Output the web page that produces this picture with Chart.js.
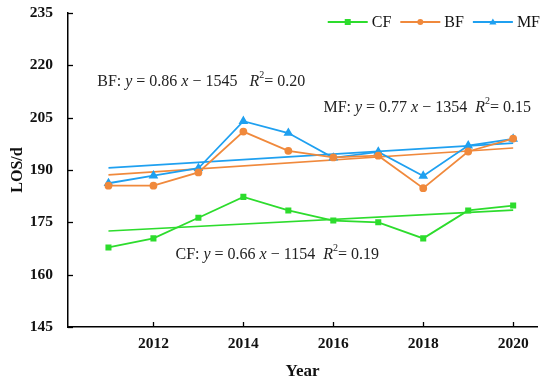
<!DOCTYPE html>
<html lang="en">
<head>
    <meta charset="UTF-8">
    <title>LOS trend</title>
    <script src="https://cdn.jsdelivr.net/npm/chart.js"></script>
    <style>
        html, body { margin: 0; padding: 0; background: #ffffff; }
        #wrap { width: 550px; height: 386px; }
    </style>
</head>
<body>
    <div id="wrap"><canvas id="losChart"></canvas></div>
    <script>
        const years = [2011, 2012, 2013, 2014, 2015, 2016, 2017, 2018, 2019, 2020];
        const cfValues = [167.8, 170.4, 176.3, 182.3, 178.4, 175.5, 175.0, 170.4, 178.4, 179.8];
        const bfValues = [185.5, 185.5, 189.3, 201.0, 195.5, 193.6, 194.1, 184.8, 195.3, 199.0];
        const mfValues = [186.2, 188.4, 190.5, 204.0, 200.6, 193.5, 195.2, 188.3, 197.0, 198.9];

        // fitted lines, read at both ends
        const trendYears = [2011, 2020];
        const cfTrend = [172.5, 178.5];
        const bfTrend = [188.6, 196.3];
        const mfTrend = [190.6, 197.7];

        const xTicks = [2012, 2014, 2016, 2018, 2020];
        const yTicks = [145, 160, 175, 190, 205, 220, 235];

        const seriesNames = ['CF', 'BF', 'MF'];
        const equations = [
            ['CF: ', ['y', 'i'], ' = 0.66 ', ['x', 'i'], ' \u2212 1154  ', ['R', 'i'], ['2', 's'], '= 0.19'],
            ['BF: ', ['y', 'i'], ' = 0.86 ', ['x', 'i'], ' \u2212 1545   ', ['R', 'i'], ['2', 's'], '= 0.20'],
            ['MF: ', ['y', 'i'], ' = 0.77 ', ['x', 'i'], ' \u2212 1354  ', ['R', 'i'], ['2', 's'], '= 0.15']
        ];

        const colors = ['#2ddc2d', '#f0893c', '#1fa0f0'];
        const markers = ['rect', 'circle', 'triangle'];
        const eqPos = [[2012.49, 165.8], [2010.75, 215.3], [2015.78, 207.9]];
        const serif = "'Liberation Serif', 'Times New Roman', serif";

        const pts = (xs, ys) => xs.map((x, i) => ({ x: x, y: ys[i] }));

        const seriesData = [cfValues, bfValues, mfValues];
        const trendData = [cfTrend, bfTrend, mfTrend];
        const datasets = [];
        seriesNames.forEach((name, i) => {
            datasets.push({
                label: name,
                data: pts(years, seriesData[i]),
                borderColor: colors[i],
                backgroundColor: colors[i],
                borderWidth: 1.8,
                pointStyle: markers[i],
                pointRadius: markers[i] === 'triangle' ? 3.8 : 3,
                tension: 0
            });
        });
        seriesNames.forEach((name, i) => {
            datasets.push({
                label: name + ' fit',
                data: pts(trendYears, trendData[i]),
                borderColor: colors[i],
                borderWidth: 1.6,
                pointRadius: 0,
                tension: 0
            });
        });

        function drawMarker(ctx, marker, x, y) {
            ctx.beginPath();
            if (marker === 'rect') ctx.rect(x - 3, y - 3, 6, 6);
            else if (marker === 'circle') ctx.arc(x, y, 3, 0, Math.PI * 2);
            else { ctx.moveTo(x, y - 3.6); ctx.lineTo(x + 3.6, y + 2.5); ctx.lineTo(x - 3.6, y + 2.5); ctx.closePath(); }
            ctx.fill();
        }

        // line + marker legend, top right inside the plot
        const topLegend = {
            id: 'topLegend',
            afterDraw(chart) {
                const ctx = chart.ctx;
                const y = chart.chartArea.top + 9;
                ctx.save();
                ctx.font = '16px ' + serif;
                ctx.textBaseline = 'middle';
                let right = chart.width - 10;
                for (let i = seriesNames.length - 1; i >= 0; i--) {
                    const w = ctx.measureText(seriesNames[i]).width;
                    const tx = right - w;
                    const lx = tx - 4 - 40;
                    ctx.fillStyle = '#111';
                    ctx.fillText(seriesNames[i], tx, y + 1);
                    ctx.strokeStyle = colors[i]; ctx.fillStyle = colors[i]; ctx.lineWidth = 2;
                    ctx.beginPath(); ctx.moveTo(lx, y); ctx.lineTo(lx + 40, y); ctx.stroke();
                    drawMarker(ctx, markers[i], lx + 20, y);
                    right = lx - 9;
                }
                ctx.restore();
            }
        };

        const innerTicks = {
            id: 'innerTicks',
            afterDraw(chart) {
                const ctx = chart.ctx, xs = chart.scales.x, ys = chart.scales.y;
                const a = chart.chartArea;
                ctx.save();
                ctx.strokeStyle = '#000'; ctx.lineWidth = 1.3;
                xTicks.forEach(v => {
                    const p = Math.round(xs.getPixelForValue(v)) + 0.5;
                    ctx.beginPath(); ctx.moveTo(p, a.bottom); ctx.lineTo(p, a.bottom - 5); ctx.stroke();
                });
                yTicks.forEach(v => {
                    const p = Math.round(ys.getPixelForValue(v)) + 0.5;
                    ctx.beginPath(); ctx.moveTo(a.left, p); ctx.lineTo(a.left + 5, p); ctx.stroke();
                });
                ctx.restore();
            }
        };

        const eqLabels = {
            id: 'eqLabels',
            afterDraw(chart) {
                const ctx = chart.ctx, xs = chart.scales.x, ys = chart.scales.y;
                ctx.save();
                ctx.fillStyle = '#222';
                ctx.textBaseline = 'middle';
                equations.forEach((parts, k) => {
                    let x = xs.getPixelForValue(eqPos[k][0]);
                    const y = ys.getPixelForValue(eqPos[k][1]);
                    parts.forEach(p => {
                        const txt = typeof p === 'string' ? p : p[0];
                        const kind = typeof p === 'string' ? '' : p[1];
                        let dy = 0;
                        if (kind === 'i') ctx.font = 'italic 16px ' + serif;
                        else if (kind === 's') { ctx.font = '10px ' + serif; dy = -6; }
                        else ctx.font = '16px ' + serif;
                        ctx.fillText(txt, x, y + dy);
                        x += ctx.measureText(txt).width;
                    });
                });
                ctx.restore();
            }
        };

        new Chart(document.getElementById('losChart'), {
            type: 'line',
            data: { datasets: datasets },
            options: {
                responsive: true,
                maintainAspectRatio: false,
                animation: false,
                layout: { padding: { top: 13, right: 13, left: 0, bottom: 0 } },
                plugins: {
                    tooltip: { enabled: false },
                    legend: { display: false }
                },
                scales: {
                    x: {
                        type: 'linear',
                        min: 2010.1,
                        max: 2020.53,
                        afterBuildTicks: s => { s.ticks = xTicks.map(v => ({ value: v })); },
                        afterFit: s => { s.height = 59; s.paddingLeft = 0; s.paddingRight = 0; },
                        grid: { drawOnChartArea: false, drawTicks: false },
                        border: { display: true, color: '#000', width: 1.5 },
                        ticks: {
                            padding: 8,
                            color: '#111',
                            font: { family: serif, size: 15.5, weight: 'bold' },
                            callback: v => String(v)
                        },
                        title: {
                            display: true,
                            text: 'Year',
                            color: '#111',
                            font: { family: serif, size: 17, weight: 'bold' },
                            padding: { top: 0, bottom: 4 }
                        }
                    },
                    y: {
                        min: 145,
                        max: 235,
                        afterBuildTicks: s => { s.ticks = yTicks.map(v => ({ value: v })); },
                        afterFit: s => { s.width = 68; s.paddingTop = 0; s.paddingBottom = 0; },
                        grid: { drawOnChartArea: false, drawTicks: false },
                        border: { display: true, color: '#000', width: 1.5 },
                        ticks: {
                            padding: 15,
                            color: '#111',
                            font: { family: serif, size: 15.5, weight: 'bold' }
                        },
                        title: {
                            display: true,
                            text: 'LOS/d',
                            color: '#111',
                            font: { family: serif, size: 16, weight: 'bold' },
                            padding: { top: 8, bottom: 0 }
                        }
                    }
                }
            },
            plugins: [innerTicks, eqLabels, topLegend]
        });
    </script>
</body>
</html>
